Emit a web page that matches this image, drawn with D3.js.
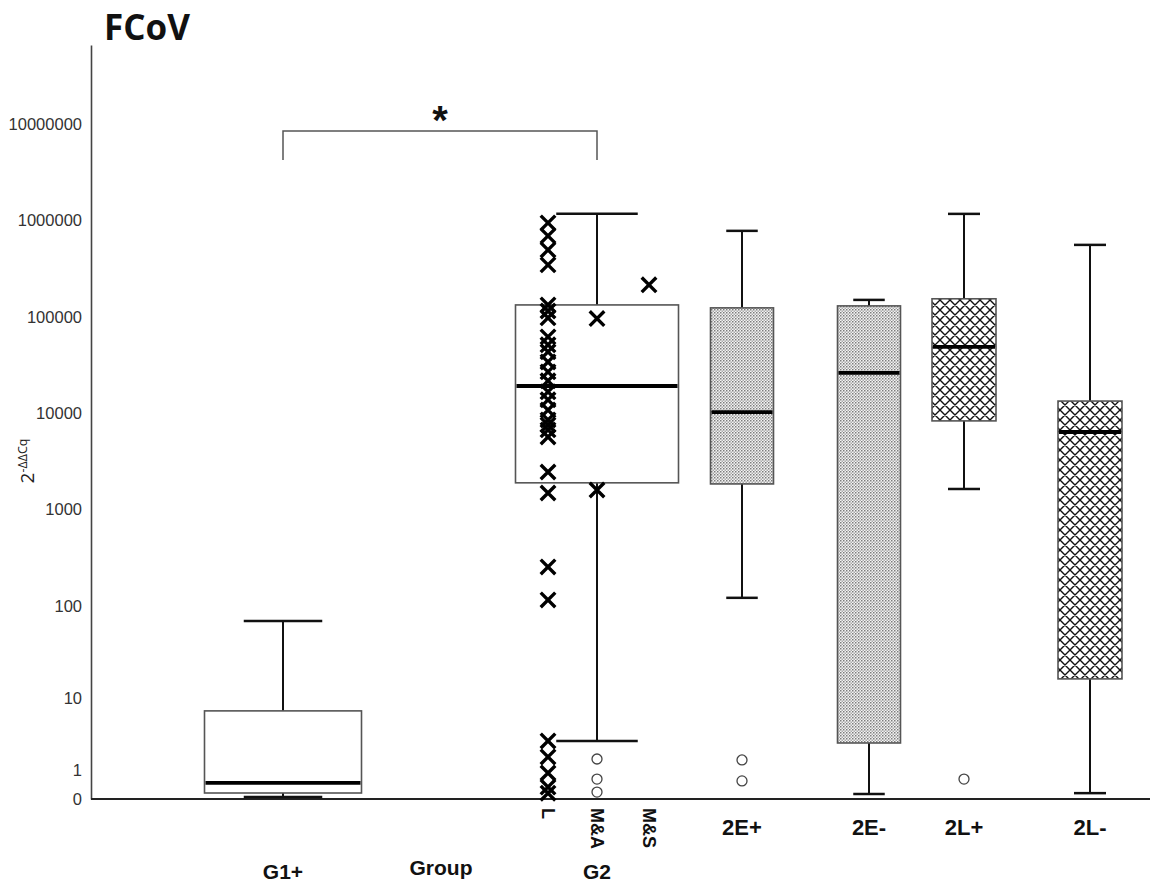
<!DOCTYPE html>
<html>
<head>
<meta charset="utf-8">
<script src="https://cdn.jsdelivr.net/npm/d3@7"></script>
<style>
  body { margin: 0; background: #fff; }
  svg { display: block; }
</style>
</head>
<body>
<div id="chart"></div>
<script>
// groups and box statistics
const groups = ["G1+", "G2", "2E+", "2E-", "2L+", "2L-"];
const whiskerLow = [0.05, 3.0, 121, 0.127, 1640, 0.15];
const q1 = [0.154, 1900, 1850, 2.81, 8340, 16.6];
const medians = [0.47, 19200, 10300, 26200, 48800, 6400];
const q3 = [7.2, 133000, 124000, 130000, 154000, 13400];
const whiskerHigh = [69, 1170000, 780000, 150000, 1170000, 558000];

// outliers drawn as open circles
const outlierGroups = ["G2", "G2", "G2", "2E+", "2E+", "2L+"];
const outlierValues = [1.6, 0.61, 0.18, 1.54, 0.54, 0.61];

// individual G2 samples by subgroup (crosses)
const subLabels = ["L", "M&A", "M&S"];
const crossesL = [944000, 692000, 495000, 346000, 133000, 115000, 97700, 62000, 51300,
    43400, 34100, 26900, 21700, 16700, 13800, 10800, 8540, 7580, 6730, 5690, 2460, 1490,
    254, 115, 3.0, 1.73, 0.86, 0.33, 0.15];
const crossesMA = [96000, 1600];
const crossesMS = [215000];

const yTicks = [0, 1, 10, 100, 1000, 10000, 100000, 1000000, 10000000];

const width = 1161, height = 886;

const svg = d3.select("#chart").append("svg")
    .attr("width", width)
    .attr("height", height);

// patterns for the E and L boxes
const defs = svg.append("defs");
const dots = defs.append("pattern")
    .attr("id", "dots")
    .attr("patternUnits", "userSpaceOnUse")
    .attr("width", 3).attr("height", 3);
dots.append("rect").attr("width", 3).attr("height", 3).attr("fill", "#f4f4f4");
dots.append("rect").attr("width", 1.5).attr("height", 1.5).attr("fill", "#7c7c7c");
dots.append("rect").attr("x", 1.5).attr("y", 1.5).attr("width", 1.5).attr("height", 1.5).attr("fill", "#aaa");

const hatch = defs.append("pattern")
    .attr("id", "hatch")
    .attr("patternUnits", "userSpaceOnUse")
    .attr("width", 10).attr("height", 10);
hatch.append("rect").attr("width", 10).attr("height", 10).attr("fill", "#fff");
hatch.append("path")
    .attr("d", "M-1,-1 L11,11 M-1,9 L1,11 M9,-1 L11,1 M11,-1 L-1,11 M1,-1 L-1,1 M11,9 L9,11")
    .attr("stroke", "#111")
    .attr("stroke-width", 1.4);

const fillOf = { "G1+": "#fff", "G2": "#fff", "2E+": "url(#dots)", "2E-": "url(#dots)", "2L+": "url(#hatch)", "2L-": "url(#hatch)" };

const y = d3.scaleSymlog()
    .constant(1)
    .domain([0, 66000000])
    .range([799, 45]);

const x = d3.scaleOrdinal()
    .domain(groups)
    .range([283, 597, 742, 869, 964, 1090]);

const boxWidth = d3.scaleOrdinal()
    .domain(groups)
    .range([157, 163, 63, 63, 64, 64]);

const xSub = d3.scaleOrdinal()
    .domain(subLabels)
    .range([548, 597, 649]);

// y axis
const yAxis = svg.append("g")
    .attr("transform", "translate(91,0)")
    .call(d3.axisLeft(y).tickValues(yTicks).tickFormat(d3.format("d")).tickSize(0).tickPadding(9));
yAxis.select(".domain").attr("stroke", "#444").attr("stroke-width", 1.6);
yAxis.selectAll("text")
    .style("font-family", "'Liberation Sans', Arial, sans-serif")
    .style("font-size", "16.5px")
    .attr("fill", "#333");

// baseline
svg.append("line")
    .attr("x1", 91).attr("x2", 1150)
    .attr("y1", y(0)).attr("y2", y(0))
    .attr("stroke", "#222").attr("stroke-width", 2);

// title
svg.append("text")
    .attr("x", 104).attr("y", 40)
    .style("font-family", "'Open Sans', sans-serif")
    .style("font-weight", "bold")
    .style("font-size", "35px")
    .attr("fill", "#111")
    .text("FCoV");

// y label
const yLab = svg.append("text")
    .attr("transform", "translate(34,461) rotate(-90)")
    .attr("text-anchor", "middle")
    .style("font-family", "'Open Sans', sans-serif")
    .attr("fill", "#222");
yLab.append("tspan").style("font-size", "19px").text("2");
yLab.append("tspan").style("font-size", "12.5px").attr("dy", "-7").text("-ΔΔCq");

// boxes
groups.forEach((g, i) => {
    const cx = x(g);
    const w = boxWidth(g);
    const cap = w / 2;
    const grp = svg.append("g");

    // whiskers
    grp.append("line")
        .attr("x1", cx).attr("x2", cx)
        .attr("y1", y(q3[i])).attr("y2", y(whiskerHigh[i]))
        .attr("stroke", "#111").attr("stroke-width", 2);
    grp.append("line")
        .attr("x1", cx).attr("x2", cx)
        .attr("y1", y(q1[i])).attr("y2", y(whiskerLow[i]))
        .attr("stroke", "#111").attr("stroke-width", 2);
    [whiskerHigh[i], whiskerLow[i]].forEach(v => {
        grp.append("line")
            .attr("x1", cx - cap / 2).attr("x2", cx + cap / 2)
            .attr("y1", y(v)).attr("y2", y(v))
            .attr("stroke", "#111").attr("stroke-width", 2.5);
    });

    grp.append("rect")
        .attr("x", cx - w / 2)
        .attr("y", y(q3[i]))
        .attr("width", w)
        .attr("height", y(q1[i]) - y(q3[i]))
        .attr("fill", fillOf[g])
        .attr("stroke", "#555")
        .attr("stroke-width", 1.6);

    grp.append("line")
        .attr("x1", cx - w / 2 + 1).attr("x2", cx + w / 2 - 1)
        .attr("y1", y(medians[i])).attr("y2", y(medians[i]))
        .attr("stroke", "#000").attr("stroke-width", 3.8);
});

// outliers
svg.selectAll(".outlier")
    .data(outlierValues)
    .enter().append("circle")
    .attr("class", "outlier")
    .attr("cx", (d, i) => x(outlierGroups[i]))
    .attr("cy", d => y(d))
    .attr("r", 5)
    .attr("fill", "#fff")
    .attr("stroke", "#444")
    .attr("stroke-width", 1.3);

// crosses for G2 subgroups
const crossData = [
    ...crossesL.map(v => ({ sub: "L", v })),
    ...crossesMA.map(v => ({ sub: "M&A", v })),
    ...crossesMS.map(v => ({ sub: "M&S", v }))
];
svg.selectAll(".cross")
    .data(crossData)
    .enter().append("path")
    .attr("class", "cross")
    .attr("transform", d => `translate(${xSub(d.sub)},${y(d.v)})`)
    .attr("d", d3.symbol(d3.symbolX, 140))
    .attr("fill", "none")
    .attr("stroke", "#000")
    .attr("stroke-width", 3.4);

// subgroup labels (rotated)
svg.selectAll(".sublabel")
    .data(subLabels)
    .enter().append("text")
    .attr("class", "sublabel")
    .attr("transform", d => `translate(${xSub(d)},808) rotate(90)`)
    .attr("dy", "0.35em")
    .style("font-family", "'Liberation Sans Narrow', 'Liberation Sans', Arial, sans-serif")
    .style("font-weight", "bold")
    .style("font-size", "18px")
    .attr("fill", "#111")
    .text(d => d);

// category labels for E/L groups
svg.selectAll(".catlabel")
    .data(groups.slice(2))
    .enter().append("text")
    .attr("class", "catlabel")
    .attr("x", d => x(d))
    .attr("y", 835)
    .attr("text-anchor", "middle")
    .style("font-family", "'Liberation Sans', Arial, sans-serif")
    .style("font-weight", "bold")
    .style("font-size", "22px")
    .attr("fill", "#111")
    .text(d => d);

// lower labels
const bottomLabels = [["G1+", x("G1+"), 879], ["Group", 441, 875], ["G2", x("G2"), 879]];
bottomLabels.forEach(([t, lx, ly]) => {
    svg.append("text")
        .attr("x", lx).attr("y", ly)
        .attr("text-anchor", "middle")
        .style("font-family", "'Liberation Sans', Arial, sans-serif")
        .style("font-weight", "bold")
        .style("font-size", "21px")
        .attr("fill", "#111")
        .text(t);
});

// significance bracket
const bx1 = x("G1+"), bx2 = x("G2"), by = 131;
svg.append("path")
    .attr("d", `M${bx1},${by + 29} V${by} H${bx2} V${by + 29}`)
    .attr("fill", "none")
    .attr("stroke", "#555")
    .attr("stroke-width", 1.5);
svg.append("text")
    .attr("x", (bx1 + bx2) / 2).attr("y", by + 3)
    .attr("text-anchor", "middle")
    .style("font-family", "'Liberation Sans', Arial, sans-serif")
    .style("font-weight", "bold")
    .style("font-size", "40px")
    .attr("fill", "#111")
    .text("*");
</script>
</body>
</html>
